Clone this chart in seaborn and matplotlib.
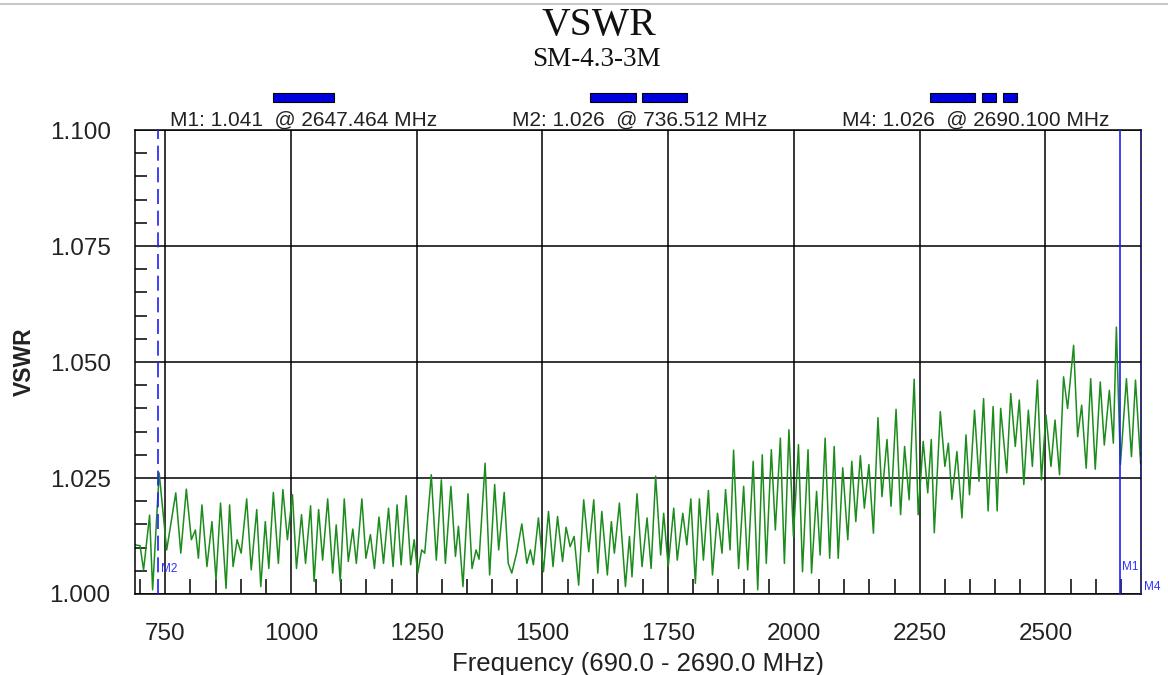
import matplotlib
matplotlib.use("Agg")
import matplotlib.pyplot as plt
import pandas as pd
import seaborn as sns
from matplotlib.lines import Line2D
from matplotlib.patches import Rectangle

# VSWR trace, read peak by peak off the analyzer screenshot
freq_mhz = [
    690, 700, 707, 719, 725, 738, 753, 771, 781, 792, 802, 810, 816, 823, 833, 843,
    851, 860, 871, 878, 885, 893, 901, 912, 921, 932, 940, 949, 956, 965, 975, 984,
    993, 1003, 1011, 1021, 1029, 1039, 1046, 1055, 1063, 1073, 1083, 1090, 1098, 1106,
    1114, 1123, 1130, 1141, 1149, 1158, 1166, 1175, 1184, 1194, 1203, 1211, 1219, 1229,
    1238, 1245, 1252, 1260, 1266, 1279, 1289, 1299, 1307, 1318, 1327, 1333, 1342, 1352,
    1360, 1368, 1374, 1386, 1395, 1405, 1413, 1424, 1432, 1439, 1449, 1459, 1469, 1476,
    1482, 1492, 1502, 1512, 1521, 1530, 1540, 1547, 1555, 1563, 1572, 1582, 1592, 1602,
    1610, 1618, 1629, 1637, 1643, 1653, 1665, 1673, 1678, 1688, 1698, 1708, 1716, 1725,
    1735, 1741, 1750, 1761, 1768, 1779, 1787, 1795, 1804, 1812, 1820, 1830, 1838, 1848,
    1857, 1864, 1873, 1880, 1890, 1900, 1908, 1919, 1928, 1937, 1945, 1955, 1963, 1973,
    1981, 1990, 1999, 2009, 2017, 2028, 2035, 2045, 2052, 2062, 2071, 2080, 2088, 2097,
    2107, 2115, 2123, 2132, 2140, 2149, 2158, 2167, 2175, 2185, 2193, 2203, 2212, 2220,
    2229, 2239, 2247, 2257, 2266, 2273, 2279, 2291, 2300, 2307, 2314, 2324, 2334, 2342,
    2349, 2359, 2368, 2377, 2386, 2396, 2404, 2411, 2423, 2431, 2440, 2448, 2457, 2466,
    2474, 2484, 2492, 2501, 2511, 2519, 2528, 2536, 2544, 2556, 2564, 2572, 2581, 2590,
    2599, 2609, 2617, 2627, 2635, 2641, 2649, 2661, 2671, 2679, 2690,
]
vswr = [
    1.0106, 1.0104, 1.0052, 1.0170, 1.0009, 1.0261, 1.0095, 1.0218, 1.0088, 1.0226,
    1.0117, 1.0138, 1.0077, 1.0192, 1.0059, 1.0156, 1.0030, 1.0196, 1.0012, 1.0192,
    1.0059, 1.0117, 1.0088, 1.0205, 1.0052, 1.0182, 1.0016, 1.0156, 1.0055, 1.0219,
    1.0066, 1.0225, 1.0117, 1.0214, 1.0055, 1.0171, 1.0066, 1.0190, 1.0027, 1.0182,
    1.0073, 1.0205, 1.0045, 1.0149, 1.0027, 1.0205, 1.0070, 1.0140, 1.0066, 1.0205,
    1.0077, 1.0128, 1.0055, 1.0166, 1.0066, 1.0185, 1.0059, 1.0192, 1.0063, 1.0212,
    1.0063, 1.0117, 1.0045, 1.0095, 1.0088, 1.0257, 1.0073, 1.0246, 1.0066, 1.0232,
    1.0081, 1.0146, 1.0016, 1.0216, 1.0055, 1.0095, 1.0075, 1.0282, 1.0041, 1.0236,
    1.0095, 1.0219, 1.0066, 1.0045, 1.0090, 1.0151, 1.0066, 1.0095, 1.0063, 1.0164,
    1.0048, 1.0178, 1.0059, 1.0167, 1.0070, 1.0144, 1.0102, 1.0124, 1.0019, 1.0203,
    1.0091, 1.0203, 1.0045, 1.0178, 1.0041, 1.0156, 1.0088, 1.0196, 1.0016, 1.0124,
    1.0037, 1.0216, 1.0059, 1.0164, 1.0055, 1.0254, 1.0084, 1.0174, 1.0059, 1.0185,
    1.0073, 1.0174, 1.0106, 1.0205, 1.0023, 1.0205, 1.0073, 1.0223, 1.0041, 1.0174,
    1.0088, 1.0225, 1.0095, 1.0310, 1.0055, 1.0232, 1.0052, 1.0286, 1.0009, 1.0300,
    1.0066, 1.0311, 1.0138, 1.0336, 1.0066, 1.0354, 1.0124, 1.0322, 1.0048, 1.0311,
    1.0045, 1.0221, 1.0084, 1.0336, 1.0077, 1.0318, 1.0077, 1.0272, 1.0117, 1.0286,
    1.0156, 1.0298, 1.0185, 1.0279, 1.0131, 1.0380, 1.0210, 1.0333, 1.0189, 1.0398,
    1.0171, 1.0318, 1.0203, 1.0463, 1.0171, 1.0329, 1.0218, 1.0333, 1.0132, 1.0393,
    1.0275, 1.0325, 1.0204, 1.0307, 1.0164, 1.0343, 1.0214, 1.0396, 1.0243, 1.0421,
    1.0179, 1.0404, 1.0179, 1.0400, 1.0261, 1.0432, 1.0318, 1.0418, 1.0236, 1.0396,
    1.0275, 1.0461, 1.0246, 1.0386, 1.0275, 1.0375, 1.0257, 1.0468, 1.0400, 1.0536,
    1.0339, 1.0407, 1.0271, 1.0464, 1.0269, 1.0457, 1.0321, 1.0439, 1.0325, 1.0575,
    1.0279, 1.0464, 1.0296, 1.0461, 1.0268,
]

# markers shown on the analyzer
marker_names = ["M1", "M2", "M4"]
marker_freq = [2647.464, 736.512, 2690.100]
marker_vswr = [1.041, 1.026, 1.026]

# blue band indicators above the plot
band_start = [965, 1595, 1697, 2271, 2374, 2416]
band_end = [1085, 1685, 1788, 2360, 2402, 2444]

x_major = [750, 1000, 1250, 1500, 1750, 2000, 2250, 2500]
y_major = [1.000, 1.025, 1.050, 1.075, 1.100]

sns.set_theme(style="white")
plt.rcParams["font.family"] = ["Liberation Sans", "DejaVu Sans"]

frame = pd.DataFrame({"freq": freq_mhz, "vswr": vswr})

fig = plt.figure(figsize=(11.68, 6.75), dpi=100)
ax = fig.add_axes([0.1156, 0.12, 0.8613, 0.6874])

sns.lineplot(data=frame, x="freq", y="vswr", color="#1c8c1c", linewidth=1.1, ax=ax)

ax.set_xlim(690, 2690)
ax.set_ylim(1.0, 1.1)
ax.set_xticks(x_major)
ax.set_xticks([f for f in range(700, 2690, 50) if f not in x_major], minor=True)
ax.set_yticks(y_major)
ax.set_yticks([1.0 + i * 0.005 for i in range(21) if i % 5], minor=True)
ax.set_yticklabels([f"{v:.3f}" for v in y_major])
ax.grid(True, which="major", color="black", linewidth=1.1)
for spine in ax.spines.values():
    spine.set_color("black")
    spine.set_linewidth(1.1)

ax.tick_params(axis="x", which="major", direction="out", length=15, width=1.1,
               pad=6, labelsize=17.5, colors="black", labelcolor="#222222")
ax.tick_params(axis="x", which="minor", direction="in", length=10.5, width=1.1,
               bottom=True, colors="black")
ax.tick_params(axis="y", which="major", direction="out", length=9.5, width=1.1,
               pad=8, labelsize=17.5, colors="black", labelcolor="#222222")
ax.tick_params(axis="y", which="minor", direction="in", length=8.3, width=1.1,
               left=True, colors="black")

ax.set_xlabel("Frequency (690.0 - 2690.0 MHz)", fontsize=18.5, color="#222222", labelpad=5)
ax.set_ylabel("VSWR", fontsize=16.5, fontweight="bold", color="#222222", labelpad=10)

# marker lines
styles = {"M1": (0, ()), "M2": (0, (9, 4)), "M4": (0, (3, 2))}
for name, f in zip(marker_names, marker_freq):
    ax.axvline(f, color="#1f1fff", linewidth=1.2, linestyle=styles[name], zorder=5)
label_pos = {"M1": 0.059, "M2": 0.053, "M4": 0.015}
for name, f in zip(marker_names, marker_freq):
    ax.annotate(name, xy=(f, label_pos[name]), xycoords=("data", "axes fraction"),
                xytext=(2, 0), textcoords="offset points",
                color="#3030ff", fontsize=8.5, ha="left", va="center",
                annotation_clip=False)

# marker readouts above the plot
text_x = {"M1": 0.0348, "M2": 0.3748, "M4": 0.7028}
for name, f, v in zip(marker_names, marker_freq, marker_vswr):
    ax.text(text_x[name], 1.0216, f"{name}: {v:.3f}  @ {f:.3f} MHz",
            transform=ax.transAxes, fontsize=15, color="#222222", va="center")

for x0, x1 in zip(band_start, band_end):
    ax.add_patch(Rectangle((x0, 1.0603), x1 - x0, 0.0194,
                           transform=ax.get_xaxis_transform(), clip_on=False,
                           facecolor="#0000dd", edgecolor="black", linewidth=0.8))

fig.text(0.513, 0.962, "VSWR", family="Liberation Serif", fontsize=28.5,
         ha="center", va="center", color="#111111")
fig.text(0.511, 0.912, "SM-4.3-3M", family="Liberation Serif", fontsize=19.5,
         ha="center", va="center", color="#111111")
fig.add_artist(Line2D([0, 1], [0.994, 0.994], color="#c8c8c8", linewidth=1.5))

fig.savefig("out.png", dpi=100)
plt.close(fig)
